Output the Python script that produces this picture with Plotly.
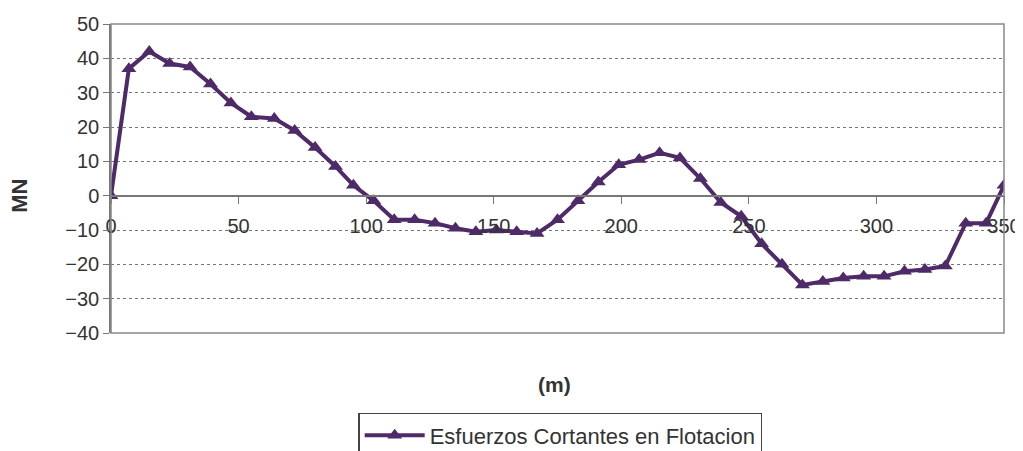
import plotly.graph_objects as go

# stations along the hull (m) and shear force in floating condition (MN)
stations = [0, 7, 15, 23, 31, 39, 47, 55, 64, 72, 80, 88, 95, 103, 111, 119,
            127, 135, 143, 151, 159, 167, 175, 183, 191, 199, 207, 215, 223,
            231, 239, 247, 255, 263, 271, 279, 287, 295, 303, 311, 319, 327,
            335, 343, 350]
shear = [0, 37, 42, 38.5, 37.5, 32.5, 27, 23, 22.5, 19, 14, 8.5, 3, -1.5, -7,
         -7, -8, -9.5, -10.5, -10, -10.5, -11, -7, -1.5, 4, 9, 10.5, 12.5, 11,
         5, -2, -6, -14, -20, -26, -25, -24, -23.5, -23.5, -22, -21.5, -20.5,
         -8, -8, 3]

x_ticks = [0, 50, 100, 150, 200, 250, 300, 350]
y_ticks = [-40, -30, -20, -10, 0, 10, 20, 30, 40, 50]

purple = '#4e2a68'
font_name = 'Liberation Sans, Arial, sans-serif'

fig = go.Figure()

fig.add_trace(go.Scatter(
    x=stations,
    y=shear,
    mode='lines+markers',
    name='Esfuerzos Cortantes en Flotacion',
    line=dict(color=purple, width=4),
    marker=dict(symbol='triangle-up', size=13, color=purple),
))

# page body has an 8px margin, so the figure is a bit smaller than the window
fig.update_layout(
    width=1015,
    height=443,
    margin=dict(l=103, r=19, t=16, b=118),
    paper_bgcolor='white',
    plot_bgcolor='white',
    font=dict(family=font_name, size=19, color='#333333'),
    showlegend=True,
    legend=dict(
        orientation='h',
        xref='paper', x=0.503, xanchor='center',
        yref='container', y=0.086, yanchor='top',
        bordercolor='#444444', borderwidth=1.5,
        font=dict(size=22, color='#333333'),
        itemwidth=60,
        bgcolor='white',
    ),
    xaxis=dict(
        range=[0, 350],
        tickvals=x_ticks,
        anchor='free',
        position=40 / 90,
        automargin=False,
        showline=True, linecolor='#777777', linewidth=1.5,
        ticks='outside', ticklen=8, tickcolor='#777777',
        ticklabelstandoff=5,
        showgrid=False, zeroline=False,
        tickfont=dict(size=20, color='#333333'),
    ),
    yaxis=dict(
        range=[-40, 50],
        tickvals=y_ticks,
        automargin=False,
        showline=True, linecolor='#777777', linewidth=1.5,
        ticks='outside', ticklen=6, tickcolor='#777777',
        showgrid=True, gridcolor='#777777', griddash='dot', gridwidth=1,
        zeroline=False,
        tickfont=dict(size=20, color='#333333'),
    ),
    shapes=[dict(type='rect', xref='paper', yref='paper', x0=0, x1=1, y0=0, y1=1,
                 line=dict(color='#888888', width=1.5), layer='above')],
    annotations=[
        dict(text='<b>MN</b>', xref='paper', yref='paper', x=-0.102, y=0.444,
             xanchor='center', yanchor='middle',
             textangle=-90, showarrow=False, font=dict(size=22, color='#333333')),
        dict(text='<b>(m)</b>', xref='paper', yref='paper', x=0.497, y=-0.168,
             xanchor='center', yanchor='middle',
             showarrow=False, font=dict(size=21, color='#333333')),
    ],
)

fig.write_html("out.html")
